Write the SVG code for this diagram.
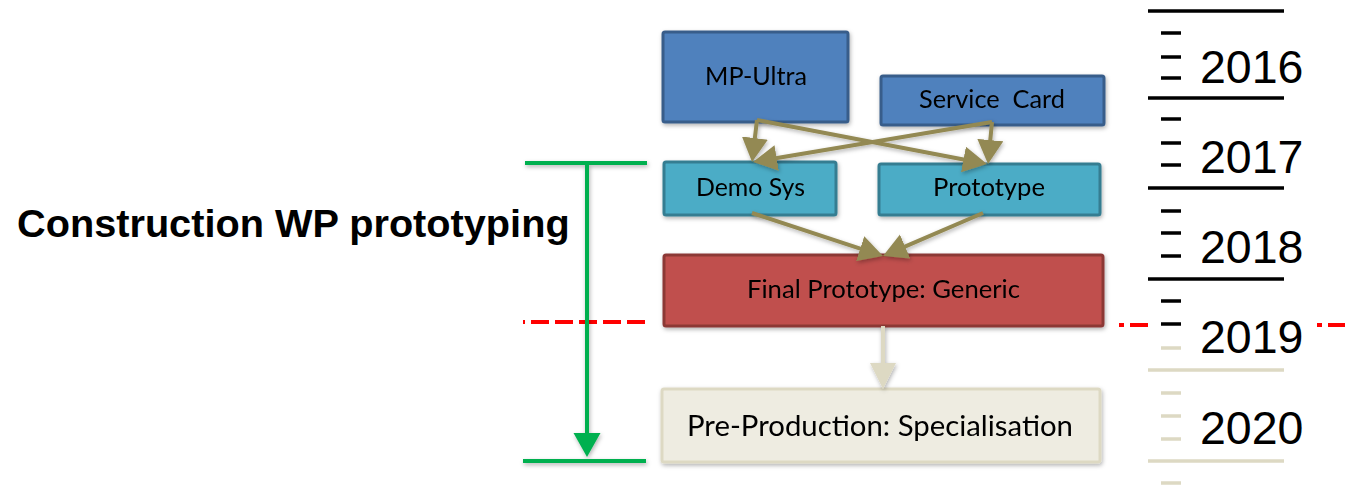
<svg xmlns="http://www.w3.org/2000/svg" width="1345" height="485" viewBox="0 0 1345 485">
  <style>
    .box { stroke-width: 3; }
    .blue { fill: #4f81bd; stroke: #385d8a; }
    .teal { fill: #4bacc6; stroke: #357d91; }
    .red { fill: #c0504d; stroke: #8c3836; }
    .cream { fill: #eeece1; stroke: #ddd9c3; }
    .lbl { font-family: Lato, "Liberation Sans", sans-serif; font-size: 25.5px; fill: #000; text-anchor: middle; white-space: pre; }
    .big { font-size: 29.5px; }
    .year { font-family: "Liberation Sans", Arial, sans-serif; font-size: 46.5px; fill: #000; }
    .title { font-family: "Liberation Sans", Arial, sans-serif; font-size: 39.7px; font-weight: bold; fill: #000; }
    .olive { stroke: #938953; stroke-width: 4; fill: none; marker-end: url(#headOlive); }
    .pale { stroke: #ddd9c3; stroke-width: 4; fill: none; marker-end: url(#headPale); }
    .green { stroke: #00b050; stroke-width: 4; fill: none; }
    .redDash { stroke: #ff0000; stroke-width: 4; fill: none; stroke-dasharray: 18 6; stroke-dashoffset: 16; }
    .redDashR { stroke: #ff0000; stroke-width: 4; fill: none; stroke-dasharray: 18 6; stroke-dashoffset: 13; }
    .tl { stroke-width: 3.5; fill: none; }
    .ink { stroke: #000; }
    .fade { stroke: #ddd9c3; }
  </style>
  <defs>
    <filter id="shadow" x="-20%" y="-20%" width="140%" height="140%">
      <feDropShadow dx="1" dy="2" stdDeviation="2" flood-color="#000" flood-opacity="0.3"/>
    </filter>
    <marker id="headOlive" markerUnits="userSpaceOnUse" markerWidth="26" markerHeight="28" refX="4" refY="13" orient="auto">
      <path d="M0,0 L24,13 L0,26 Z" fill="#938953"/>
    </marker>
    <marker id="headPale" markerUnits="userSpaceOnUse" markerWidth="28" markerHeight="28" refX="4" refY="13" orient="auto">
      <path d="M0,0 L26,13 L0,26 Z" fill="#ddd9c3"/>
    </marker>
    <marker id="headGreen" markerUnits="userSpaceOnUse" markerWidth="26" markerHeight="30" refX="4" refY="13.5" orient="auto">
      <path d="M0,0 L24,13.5 L0,27 Z" fill="#00b050"/>
    </marker>
  </defs>

  <rect width="1345" height="485" fill="#ffffff"/>

  <!-- title -->
  <text class="title" x="17" y="237">Construction WP prototyping</text>

  <!-- year scale -->
  <g id="timeline">
    <g class="tl ink">
      <line x1="1148" y1="11" x2="1284" y2="11"/>
      <line x1="1161" y1="33" x2="1181" y2="33"/>
      <line x1="1161" y1="57" x2="1181" y2="57"/>
      <line x1="1161" y1="78" x2="1181" y2="78"/>
      <line x1="1148" y1="98" x2="1284" y2="98"/>
      <line x1="1161" y1="119" x2="1181" y2="119"/>
      <line x1="1161" y1="143" x2="1181" y2="143"/>
      <line x1="1161" y1="165" x2="1181" y2="165"/>
      <line x1="1148" y1="188" x2="1284" y2="188"/>
      <line x1="1161" y1="211" x2="1181" y2="211"/>
      <line x1="1161" y1="233" x2="1181" y2="233"/>
      <line x1="1161" y1="256" x2="1181" y2="256"/>
      <line x1="1148" y1="279" x2="1284" y2="279"/>
      <line x1="1161" y1="301" x2="1181" y2="301"/>
      <line x1="1161" y1="324" x2="1181" y2="324"/>
    </g>
    <g class="tl fade">
      <line x1="1161" y1="348" x2="1181" y2="348"/>
      <line x1="1148" y1="370" x2="1284" y2="370"/>
      <line x1="1161" y1="393" x2="1181" y2="393"/>
      <line x1="1161" y1="416" x2="1181" y2="416"/>
      <line x1="1161" y1="439" x2="1181" y2="439"/>
      <line x1="1148" y1="461" x2="1284" y2="461"/>
      <line x1="1161" y1="483" x2="1181" y2="483"/>
    </g>
    <text class="year" x="1200" y="83">2016</text>
    <text class="year" x="1200" y="173">2017</text>
    <text class="year" x="1200" y="263">2018</text>
    <text class="year" x="1200" y="353">2019</text>
    <text class="year" x="1200" y="444">2020</text>
  </g>

  <!-- cut-off marker (dashed red) -->
  <g id="cutoff">
    <line class="redDash" x1="523" y1="322" x2="645" y2="322"/>
    <line class="redDashR" x1="1119" y1="325" x2="1148" y2="325"/>
    <line class="redDashR" x1="1317" y1="325" x2="1345" y2="325"/>
  </g>

  <!-- work-package span -->
  <g id="span" filter="url(#shadow)">
    <line class="green" x1="525" y1="163" x2="647" y2="163"/>
    <line class="green" x1="523" y1="461" x2="646" y2="461"/>
    <line class="green" x1="587" y1="163" x2="587" y2="437" marker-end="url(#headGreen)"/>
  </g>

  <!-- nodes -->
  <g id="mp-ultra" filter="url(#shadow)">
    <rect class="box blue" x="663" y="32" width="185" height="90" rx="2"/>
    <text class="lbl" x="756" y="85" textLength="102" lengthAdjust="spacingAndGlyphs">MP-Ultra</text>
  </g>
  <g id="service-card" filter="url(#shadow)">
    <rect class="box blue" x="881" y="76" width="223" height="49" rx="2"/>
    <text class="lbl" x="992" y="108" textLength="146" lengthAdjust="spacingAndGlyphs">Service  Card</text>
  </g>
  <g id="demo-sys" filter="url(#shadow)">
    <rect class="box teal" x="664" y="162" width="172" height="53" rx="2"/>
    <text class="lbl" x="750.5" y="196" textLength="109" lengthAdjust="spacingAndGlyphs">Demo Sys</text>
  </g>
  <g id="prototype" filter="url(#shadow)">
    <rect class="box teal" x="879" y="164" width="221" height="51" rx="2"/>
    <text class="lbl" x="989" y="196" textLength="112" lengthAdjust="spacingAndGlyphs">Prototype</text>
  </g>
  <g id="final-prototype" filter="url(#shadow)">
    <rect class="box red" x="664" y="255" width="439" height="71" rx="2"/>
    <text class="lbl" x="883.5" y="298" textLength="273" lengthAdjust="spacingAndGlyphs">Final Prototype: Generic</text>
  </g>
  <g id="pre-production" filter="url(#shadow)">
    <rect class="box cream" x="662" y="389" width="438" height="73" rx="2"/>
    <text class="lbl big" x="880" y="436" textLength="386" lengthAdjust="spacingAndGlyphs">Pre-Production: Specialisation</text>
  </g>

  <!-- connectors -->
  <g id="connectors" filter="url(#shadow)">
    <line class="olive" x1="757" y1="120" x2="754.4" y2="142.1"/>
    <line class="olive" x1="757" y1="120" x2="967.4" y2="160.2"/>
    <line class="olive" x1="992" y1="122" x2="989.9" y2="144.1"/>
    <line class="olive" x1="992" y1="122" x2="772.7" y2="158.7"/>
    <line class="olive" x1="752" y1="213" x2="864" y2="249.8"/>
    <line class="olive" x1="983" y1="213" x2="901.4" y2="248.1"/>
    <line class="pale" x1="883" y1="326" x2="883" y2="367"/>
  </g>
</svg>
